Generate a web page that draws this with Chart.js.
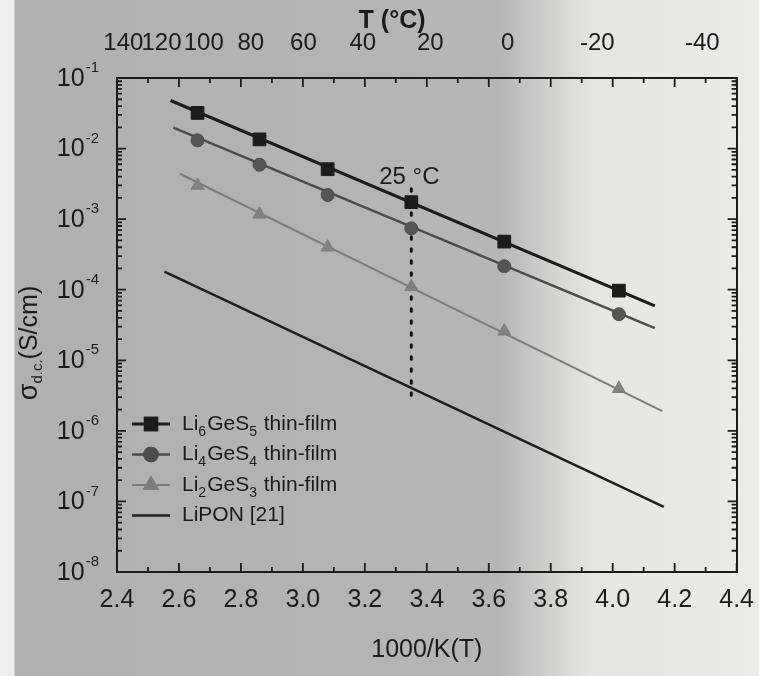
<!DOCTYPE html>
<html>
<head>
<meta charset="UTF-8">
<title>Conductivity of Li-Ge-S thin films</title>
<script src="https://cdn.jsdelivr.net/npm/chart.js"></script>
<style>
  html, body { margin: 0; padding: 0; }
  body {
    width: 759px; height: 676px; overflow: hidden;
    background: linear-gradient(to right, #eeeeec 0, #eeeeec 14px, #b0b0ae 15px, #b6b6b4 66%, #d4d3ce 73%, #e7e5df 78%, #ecebe6 100%);
  }
  #wrap { position: relative; width: 759px; height: 676px; }
</style>
</head>
<body>
<div id="wrap"><canvas id="sigmaChart"></canvas></div>

<script>
// 1000/T of the measured points (K^-1)
var invT = [2.66, 2.86, 3.08, 3.35, 3.65, 4.02];

// conductivity (S/cm)
var li6GeS5 = [3.2e-2, 1.35e-2, 5.1e-3, 1.74e-3, 4.8e-4, 9.7e-5];
var li4GeS4 = [1.31e-2, 5.9e-3, 2.2e-3, 7.4e-4, 2.15e-4, 4.5e-5];
var li2GeS3 = [3.0e-3, 1.17e-3, 4.0e-4, 1.1e-4, 2.58e-5, 3.95e-6];

// fitted Arrhenius lines: start / end
var li6FitX = [2.573, 4.136], li6FitY = [4.8e-2, 5.9e-5];
var li4FitX = [2.582, 4.136], li4FitY = [1.98e-2, 2.86e-5];
var li2FitX = [2.603, 4.160], li2FitY = [4.4e-3, 1.9e-6];
var liponX = [2.553, 4.165], liponY = [1.8e-4, 8.4e-8];

// 25 C marker
var roomX = [3.35, 3.35], roomY = [2.7e-3, 2.9e-6];
var roomLabel = '25 °C', roomLabelY = 3.9e-3;

// axes
var xTicks = [2.4, 2.6, 2.8, 3.0, 3.2, 3.4, 3.6, 3.8, 4.0, 4.2, 4.4];
var tempC = [140, 120, 100, 80, 60, 40, 20, 0, -20, -40];
var yDecades = [-8, -7, -6, -5, -4, -3, -2, -1];

var FONT = 'Liberation Sans, Arial, sans-serif';
var INK = '#1b1b1b';

function pts(xs, ys) {
    return xs.map(function (x, i) { return {x: x, y: ys[i]}; });
}

// inward tick marks on all four sides, mirrored like the original
var frameTicks = {
    id: 'frameTicks',
    afterDraw: function (chart) {
        var ctx = chart.ctx, a = chart.chartArea;
        var sx = chart.scales.x, sy = chart.scales.y;
        ctx.save();
        ctx.strokeStyle = INK;
        ctx.lineWidth = 1.8;
        ctx.beginPath();
        for (var k = 24; k <= 44; k++) {
            var px = sx.getPixelForValue(k / 10);
            var len = k % 2 === 0 ? 9 : 5;
            ctx.moveTo(px, a.bottom); ctx.lineTo(px, a.bottom - len);
            ctx.moveTo(px, a.top); ctx.lineTo(px, a.top + len);
        }
        yDecades.forEach(function (e) {
            for (var m = 1; m <= 9; m++) {
                if (e === -1 && m > 1) break;
                var py = sy.getPixelForValue(m * Math.pow(10, e));
                var l = m === 1 ? 9 : 5;
                ctx.moveTo(a.left, py); ctx.lineTo(a.left + l, py);
                ctx.moveTo(a.right, py); ctx.lineTo(a.right - l, py);
            }
        });
        ctx.stroke();
        ctx.restore();
    }
};

// y tick labels as 10 with a raised exponent
var yLabels = {
    id: 'yLabels',
    afterDraw: function (chart) {
        var ctx = chart.ctx, sy = chart.scales.y, a = chart.chartArea;
        ctx.save();
        ctx.fillStyle = INK;
        ctx.textBaseline = 'middle';
        yDecades.forEach(function (e) {
            var py = sy.getPixelForValue(Math.pow(10, e));
            var exp = String(e);
            ctx.font = '15px ' + FONT;
            var ew = ctx.measureText(exp).width;
            var right = a.left - 18;
            ctx.textAlign = 'left';
            ctx.fillText(exp, right - ew, py - 10);
            ctx.font = '25px ' + FONT;
            ctx.textAlign = 'right';
            ctx.fillText('10', right - ew - 1, py + 1);
        });
        ctx.restore();
    }
};

// rotated y title with subscript
var yTitle = {
    id: 'yTitle',
    afterDraw: function (chart) {
        var ctx = chart.ctx, a = chart.chartArea;
        var parts = [['σ', 27, 0], ['d.c.', 15, 8], ['(S/cm)', 25, 0]];
        ctx.save();
        ctx.translate(30, (a.top + a.bottom) / 2 + 18);
        ctx.rotate(-Math.PI / 2);
        ctx.fillStyle = INK;
        ctx.textBaseline = 'middle';
        ctx.textAlign = 'left';
        var total = 0;
        parts.forEach(function (p) { ctx.font = p[1] + 'px ' + FONT; total += ctx.measureText(p[0]).width; });
        var x = -total / 2;
        parts.forEach(function (p) {
            ctx.font = p[1] + 'px ' + FONT;
            ctx.fillText(p[0], x, p[2]);
            x += ctx.measureText(p[0]).width;
        });
        ctx.restore();
    }
};

// legend inside the plot, bottom left
var legendEntries = [
    {parts: [['Li', 0], ['6', 1], ['GeS', 0], ['5', 1], [' thin-film', 0]], color: '#1c1c1c', width: 3, marker: 'rect', r: 8},
    {parts: [['Li', 0], ['4', 1], ['GeS', 0], ['4', 1], [' thin-film', 0]], color: '#4c4c4c', width: 2.5, marker: 'circle', r: 6.5},
    {parts: [['Li', 0], ['2', 1], ['GeS', 0], ['3', 1], [' thin-film', 0]], color: '#7c7c7c', width: 2, marker: 'triangle', r: 7.5},
    {parts: [['LiPON [21]', 0]], color: '#1e1e1e', width: 2.5, marker: null, r: 0}
];
var insideLegend = {
    id: 'insideLegend',
    afterDraw: function (chart) {
        var ctx = chart.ctx, a = chart.chartArea;
        ctx.save();
        legendEntries.forEach(function (en, i) {
            var y = a.bottom - 148 + i * 30.5;
            var x0 = a.left + 15, x1 = a.left + 53;
            ctx.strokeStyle = en.color;
            ctx.lineWidth = en.width;
            ctx.beginPath(); ctx.moveTo(x0, y); ctx.lineTo(x1, y); ctx.stroke();
            if (en.marker) {
                Chart.helpers.drawPoint(ctx, {pointStyle: en.marker, radius: en.r, borderWidth: 1}, (x0 + x1) / 2, y);
                ctx.fillStyle = en.color;
                ctx.strokeStyle = en.color;
                ctx.fill(); ctx.stroke();
            }
            var tx = a.left + 65;
            ctx.fillStyle = '#1a1a1a';
            ctx.textBaseline = 'middle';
            ctx.textAlign = 'left';
            en.parts.forEach(function (p) {
                ctx.font = (p[1] ? '14px ' : '21px ') + FONT;
                ctx.fillText(p[0], tx, y + (p[1] ? 8 : 0));
                tx += ctx.measureText(p[0]).width + (p[1] ? 1 : 0);
            });
        });
        ctx.restore();
    }
};

// "25 C" text above the dotted line
var roomText = {
    id: 'roomText',
    afterDatasetsDraw: function (chart) {
        var ctx = chart.ctx;
        var px = chart.scales.x.getPixelForValue(roomX[0]);
        var py = chart.scales.y.getPixelForValue(roomLabelY);
        ctx.save();
        ctx.fillStyle = INK;
        ctx.font = '24px ' + FONT;
        ctx.textAlign = 'center';
        ctx.textBaseline = 'middle';
        ctx.fillText(roomLabel, px - 2, py);
        ctx.restore();
    }
};

var chart = new Chart('sigmaChart', {
    type: 'scatter',
    data: {
        datasets: [
            {label: 'Li6GeS5 thin-film', data: pts(invT, li6GeS5), pointStyle: 'rect', pointRadius: 9,
             backgroundColor: '#1c1c1c', borderColor: '#1c1c1c', borderWidth: 1},
            {label: 'Li4GeS4 thin-film', data: pts(invT, li4GeS4), pointStyle: 'circle', pointRadius: 6.5,
             backgroundColor: '#555555', borderColor: '#4c4c4c', borderWidth: 1},
            {label: 'Li2GeS3 thin-film', data: pts(invT, li2GeS3), pointStyle: 'triangle', pointRadius: 7.5,
             backgroundColor: '#828282', borderColor: '#7c7c7c', borderWidth: 1},
            {label: 'fit6', data: pts(li6FitX, li6FitY), showLine: true, pointRadius: 0,
             borderColor: '#1c1c1c', borderWidth: 3},
            {label: 'fit4', data: pts(li4FitX, li4FitY), showLine: true, pointRadius: 0,
             borderColor: '#4c4c4c', borderWidth: 2.5},
            {label: 'fit2', data: pts(li2FitX, li2FitY), showLine: true, pointRadius: 0,
             borderColor: '#7c7c7c', borderWidth: 2},
            {label: 'LiPON [21]', data: pts(liponX, liponY), showLine: true, pointRadius: 0,
             borderColor: '#1e1e1e', borderWidth: 2.5},
            {label: '25 C', data: pts(roomX, roomY), showLine: true, pointRadius: 0,
             borderColor: '#111', borderWidth: 3, borderDash: [2.5, 9.5], borderCapStyle: 'round'}
        ]
    },
    options: {
        responsive: true,
        maintainAspectRatio: false,
        animation: false,
        layout: {padding: 0},
        plugins: {legend: {display: false}, tooltip: {enabled: false}},
        scales: {
            x: {
                type: 'linear', position: 'bottom', min: 2.4, max: 4.4,
                afterBuildTicks: function (s) { s.ticks = xTicks.map(function (v) { return {value: v}; }); },
                afterFit: function (s) { s.height = 104; },
                ticks: {callback: function (v) { return v.toFixed(1); }, autoSkip: false, maxRotation: 0,
                        padding: 5, color: INK, font: {family: FONT, size: 25}},
                grid: {display: false},
                border: {display: true, color: INK, width: 2},
                title: {display: true, text: '1000/K(T)', color: INK, font: {family: FONT, size: 25},
                        padding: {top: 4, bottom: 11}}
            },
            x2: {
                type: 'linear', position: 'top', min: 2.4, max: 4.4,
                afterBuildTicks: function (s) { s.ticks = tempC.map(function (t) { return {value: 1000 / (t + 273.15)}; }); },
                afterFit: function (s) { s.height = 78; },
                ticks: {callback: function (v, i) { return String(tempC[i]); }, autoSkip: false, maxRotation: 0,
                        padding: 12, color: INK, font: {family: FONT, size: 24}},
                grid: {display: false},
                border: {display: true, color: INK, width: 2},
                title: {display: true, text: 'T (°C)          ', color: INK, font: {family: FONT, size: 25, weight: 'bold'},
                        padding: {top: 6, bottom: 0}}
            },
            y: {
                type: 'logarithmic', position: 'left', min: 1e-8, max: 1e-1,
                afterFit: function (s) { s.width = 117; },
                ticks: {display: false},
                grid: {display: false},
                border: {display: true, color: INK, width: 2}
            },
            y2: {
                type: 'logarithmic', position: 'right', min: 1e-8, max: 1e-1,
                afterFit: function (s) { s.width = 11; },
                ticks: {display: false},
                grid: {display: false},
                border: {display: true, color: INK, width: 2}
            }
        }
    },
    plugins: [frameTicks, yLabels, yTitle, insideLegend, roomText]
});
</script>
</body>
</html>
